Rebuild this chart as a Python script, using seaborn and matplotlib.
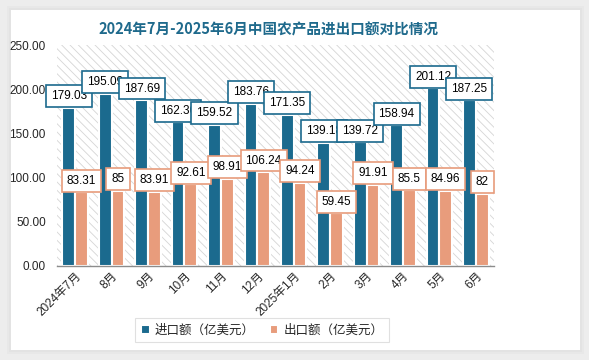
import pandas as pd
import matplotlib.pyplot as plt
import seaborn as sns
from matplotlib.patches import Rectangle, FancyBboxPatch

months = ['2024年7月', '8月', '9月', '10月', '11月', '12月', '2025年1月',
          '2月', '3月', '4月', '5月', '6月']
imports = [179.03, 195.09, 187.69, 162.36, 159.52, 183.76, 171.35,
           139.18, 139.72, 158.94, 201.12, 187.25]
exports = [83.31, 85, 83.91, 92.61, 98.91, 106.24, 94.24,
           59.45, 91.91, 85.5, 84.96, 82]
series = ['进口额（亿美元）', '出口额（亿美元）']
colors = ['#1B6A8E', '#E89C7C']

df = pd.DataFrame({
    'month': months * 2,
    'value': imports + exports,
    'series': [series[0]] * len(months) + [series[1]] * len(months),
})

sns.set_theme(style='white')
plt.rcParams['font.family'] = ['Noto Sans CJK SC', 'DejaVu Sans']
plt.rcParams['hatch.color'] = '#D5D5D5'
plt.rcParams['hatch.linewidth'] = 0.6
num_font = ['Liberation Sans', 'Noto Sans CJK SC']

fig = plt.figure(figsize=(5.89, 3.6), dpi=100)
fig.patch.set_facecolor('#EDEDED')
# white card with soft shadow
for i, a in enumerate([0.05, 0.05, 0.06]):
    fig.patches.append(FancyBboxPatch((11 / 589 - i * 0.003, 10 / 360 - i * 0.005),
                                      569 / 589 + i * 0.006, 340 / 360 + i * 0.01,
                                      boxstyle='square,pad=0', transform=fig.transFigure,
                                      facecolor='#999999', edgecolor='none', alpha=a, zorder=-5))
fig.patches.append(Rectangle((11 / 589, 10 / 360), 569 / 589, 340 / 360,
                             transform=fig.transFigure, facecolor='white',
                             edgecolor='none', zorder=-4))

ax = fig.add_axes([57 / 589, 1 - 266 / 360, 437 / 589, 221 / 360])
ax.set_zorder(2)
ax.set_facecolor('white')
ax.add_patch(Rectangle((0, 0), 1, 1, transform=ax.transAxes, facecolor='white',
                       edgecolor='#D5D5D5', hatch='\\\\\\\\', linewidth=0, zorder=0))

sns.barplot(data=df, x='month', y='value', hue='series', palette=colors, saturation=1,
            width=0.7, edgecolor='white', linewidth=1.5, ax=ax, zorder=2)

for cont, c in zip(ax.containers, colors):
    labels = ['{:g}'.format(b.get_height()) for b in cont]
    ax.bar_label(cont, labels=labels, padding=4, fontsize=8.5, color='black',
                 family=num_font,
                 bbox=dict(boxstyle='square,pad=0.42', facecolor='white',
                           edgecolor=c, linewidth=1.2), zorder=5)

ax.set_ylim(0, 250)
ax.set_yticks([0, 50, 100, 150, 200, 250])
ax.set_yticklabels(['{:.2f}'.format(v) for v in [0, 50, 100, 150, 200, 250]],
                   fontsize=8.5, family=num_font)
ax.set_xlim(-0.5, len(months) - 0.5)
ax.set_xlabel('')
ax.set_ylabel('')
ax.tick_params(axis='y', length=0, pad=8)
ax.tick_params(axis='x', length=0, pad=3)
plt.setp(ax.get_xticklabels(), rotation=45, ha='right', rotation_mode='anchor',
         fontsize=8.5, family=num_font)
for s in ['top', 'right', 'left']:
    ax.spines[s].set_visible(False)
ax.spines['bottom'].set_color('#8C8C8C')
ax.spines['bottom'].set_linewidth(1)

fig.text(268 / 589, 1 - 29 / 360, '2024年7月-2025年6月中国农产品进出口额对比情况',
         ha='center', va='center', fontsize=10.5, fontweight='bold', color='#1F6A8C')

leg = ax.legend(loc='center', bbox_to_anchor=(262 / 589, 1 - 330 / 360),
                bbox_transform=fig.transFigure, ncol=2, frameon=True, fancybox=False,
                fontsize=9, handlelength=0.7, handleheight=0.7, handletextpad=0.4,
                columnspacing=1.2, borderpad=0.45)
leg.get_frame().set_edgecolor('#D9D9D9')
leg.get_frame().set_linewidth(0.8)

fig.savefig('out.png', dpi=100, facecolor=fig.get_facecolor())
